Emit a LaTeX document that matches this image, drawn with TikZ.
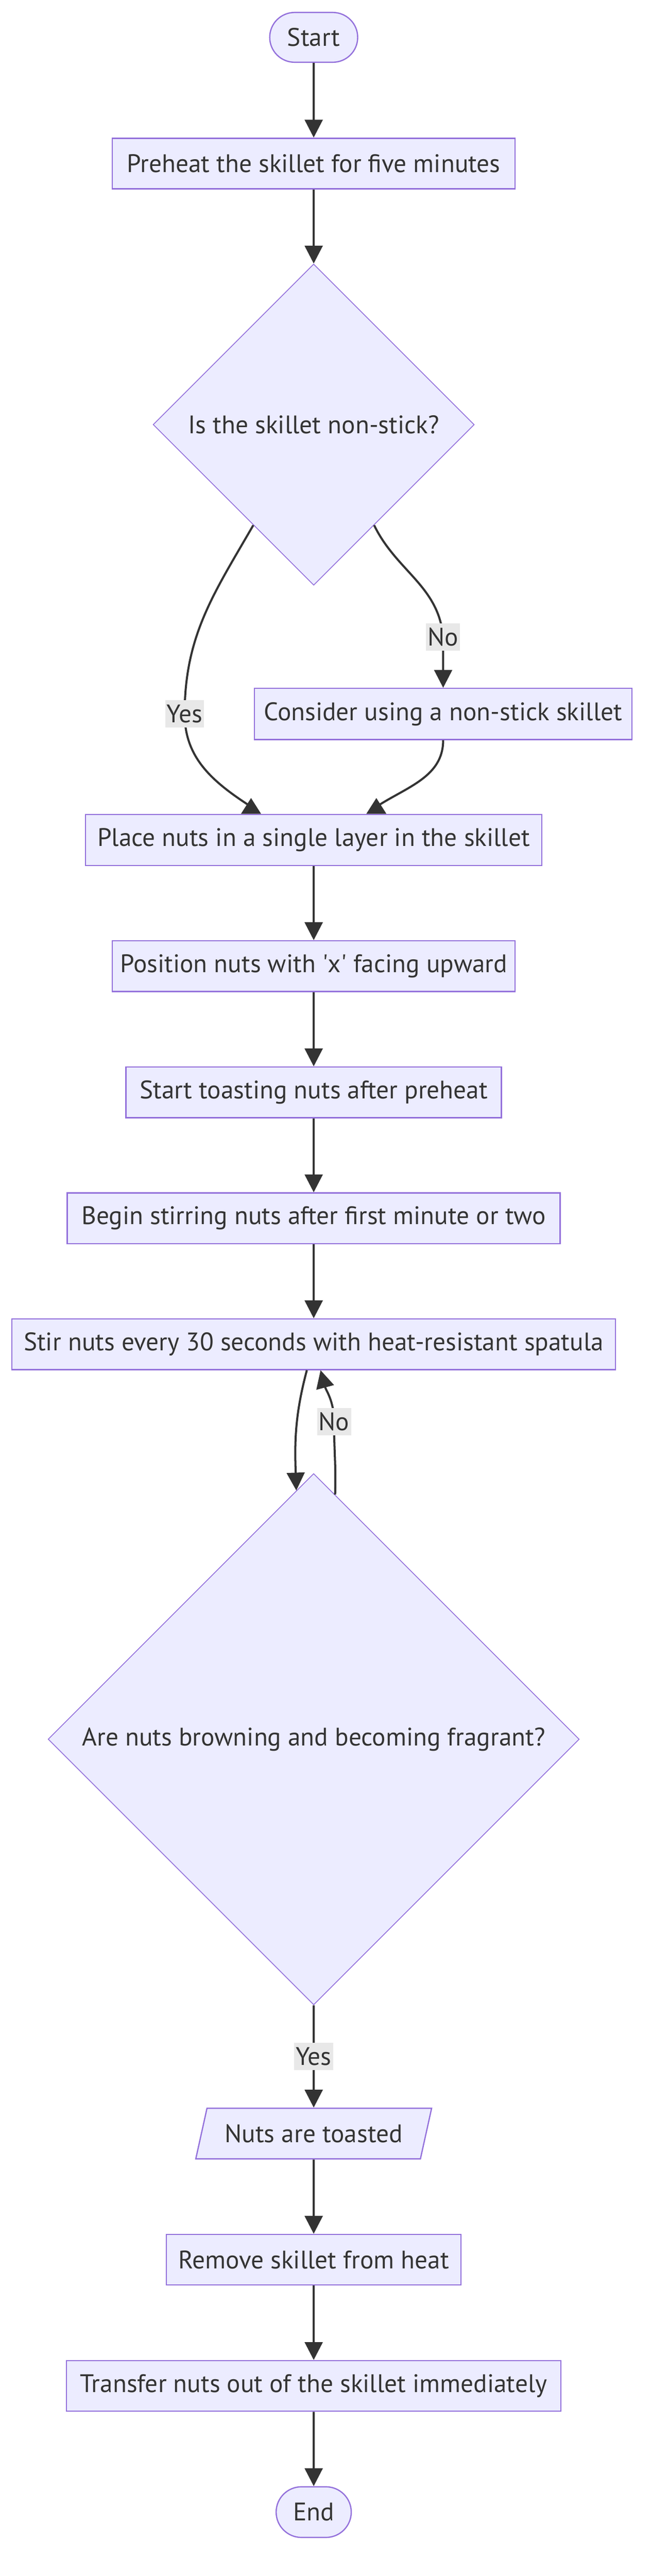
\documentclass[tikz,border=0pt]{standalone}
\usepackage{fontspec}
\setmainfont{PT Sans}
\usetikzlibrary{shapes.geometric,shapes.misc,arrows.meta}
\definecolor{nodefill}{HTML}{ECECFF}
\definecolor{nodeline}{HTML}{9370DB}
\definecolor{ink}{HTML}{333333}
\definecolor{lblfill}{HTML}{E8E8E8}

\begin{document}
\begin{tikzpicture}[
		box/.style={draw=nodeline, fill=nodefill, line width=0.3mm, text=ink, inner sep=0pt, minimum height=12.2mm},
		term/.style={box, rounded rectangle, minimum height=12mm},
		ask/.style={box, diamond, aspect=1, line width=0.2mm},
		slant/.style={box, trapezium, trapezium left angle=63, trapezium right angle=117, trapezium stretches=true},
		flow/.style={draw=ink, line width=0.5mm, -{Triangle[length=4.3mm,width=4.3mm]}},
		upflow/.style={draw=ink, line width=0.5mm, -{Triangle[length=3.8mm,width=4.7mm]}},
		lbl/.style={fill=lblfill, text=ink, inner xsep=0.4mm, inner ysep=0pt, minimum height=6.6mm},
		font=\fontsize{17.4}{20}\selectfont]
		\useasboundingbox (0,0) rectangle (15.68,-62.06);
		% steps
		\node[term, minimum width=21.2mm] (start) at (7.56,-0.90) {Start};
		\node[box, minimum width=97.1mm] (preheat) at (7.56,-3.94) {Preheat the skillet for five minutes};
		\node[ask, minimum width=77.4mm, minimum height=77.4mm] (q1) at (7.56,-10.23) {Is the skillet non-stick?};
		\node[box, minimum width=91mm, minimum height=12.3mm] (consider) at (10.68,-17.20) {Consider using a non-stick skillet};
		\node[box, minimum width=110mm, minimum height=12.3mm] (place) at (7.56,-20.235) {Place nuts in a single layer in the skillet};
		\node[box, minimum width=97.1mm] (position) at (7.56,-23.275) {Position nuts with \textquotesingle x\textquotesingle{} facing upward};
		\node[box, minimum width=90.5mm] (toast) at (7.56,-26.315) {Start toasting nuts after preheat};
		\node[box, minimum width=118.8mm] (begin) at (7.56,-29.35) {Begin stirring nuts after first minute or two};
		\node[box, minimum width=145.5mm] (stir) at (7.56,-32.385) {Stir nuts every 30 seconds with heat-resistant spatula};
		\node[ask, minimum width=128mm, minimum height=128mm] (q2) at (7.56,-41.90) {Are nuts browning and becoming fragrant?};
		\node[slant, minimum width=56.9mm] (toasted) at (7.56,-51.40) {Nuts are toasted};
		\node[box, minimum width=71mm] (remove) at (7.56,-54.44) {Remove skillet from heat};
		\node[box, minimum width=119.2mm] (transfer) at (7.56,-57.48) {Transfer nuts out of the skillet immediately};
		\node[term, minimum width=18.1mm, minimum height=12.2mm] (end) at (7.56,-60.52) {End};
		% arrows
		\draw[flow] (start) -- (preheat);
		\draw[flow] (preheat) -- (q1);
		\draw[upflow] (q1.239) to[out=240,in=90] (4.45,-17.20) node[lbl]{Yes} to[out=270,in=147] ([xshift=-15.1mm,yshift=1.7mm]place.north) -- ++(0,2.1mm);
		\draw[flow] (q1.301.6) to[out=296,in=95] (10.68,-15.35) node[lbl]{No} -- (consider.north);
		\draw[upflow] (consider.south) to[out=270,in=33] ([xshift=15.1mm,yshift=1.7mm]place.north) -- ++(0,2.1mm);
		\draw[flow] (place) -- (position);
		\draw[flow] (position) -- (toast);
		\draw[flow] (toast) -- (begin);
		\draw[flow] (begin) -- (stir);
		\draw[flow] ([xshift=-1.65mm]stir.south) to[out=255,in=92] (q2.94.2);
		\draw[flow] (q2.85.8) to[out=88,in=270] (8.05,-34.25) node[lbl]{No} to[out=90,in=285] ([xshift=1.65mm]stir.south);
		\draw[flow] (q2) -- node[lbl]{Yes} (toasted);
		\draw[flow] (toasted) -- (remove);
		\draw[flow] (remove) -- (transfer);
		\draw[flow] (transfer) -- (end);
\end{tikzpicture}
\end{document}
